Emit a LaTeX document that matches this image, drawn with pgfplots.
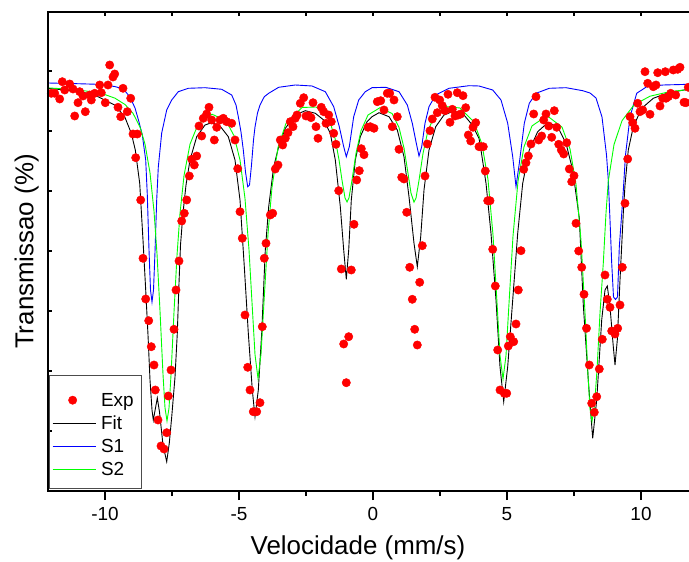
\documentclass[border=0pt]{standalone}
\usepackage{pgfplots}
\pgfplotsset{compat=1.18}
\usepackage{pgfplotstable}
\usepackage{fontspec}
\setmainfont{Liberation Sans}

% values in pixel units (px, py); converted to mm/s and a free transmission scale
\pgfplotstableread{
px py
51.3 93.3
54.7 93.3
59.7 99
62.3 81.7
64.7 90
69.7 84
73 89
74.7 116
78 102.7
79.7 91.7
83 96
85.3 111.7
89.7 95
91.3 100
94.7 93.3
99.7 85
101.3 92.7
105.3 102.7
108 85
109.7 65
113 77
114.7 74
118 107.3
120.7 116.7
123 88.3
127.3 111.7
130.7 98.3
133 134
137.3 134
135.7 157.7
140.7 200
143 258.3
145.7 299
148.7 320.7
151.3 346.7
154 365
155.3 390
158 420
161 446
164 449
166.7 432.7
168.3 396
171 370
174 329.3
176 290
179 261
181.7 221
184.3 213.3
186.7 200
189.3 176
191.7 159.3
194.3 165
196.7 156
199 126
201.7 136
203.3 118.3
206.7 114
209 107.3
211.7 120
214.3 140
216.7 127.3
220 120
223.3 118.3
226.7 121.7
231.7 123.3
235 140
237.7 168.7
240 211.7
242.3 238.3
245 315
247.7 367.3
250 390
253.3 411.7
256.7 411.7
260 402.7
262.3 326.7
264.3 258.3
266 243.3
270.3 215
272.7 213.3
275.3 169
278 165
280.3 140
282.7 145
285.3 138.3
288 132.7
290.3 121.7
293 126.7
295.3 118.3
297 115
300.3 103.3
303.7 97.7
306 116
308.7 115.7
311 117.7
313 102.7
316 126.7
318 138.3
321.3 107.3
323.7 111.7
326 123.3
328.7 115
331.3 121.7
333.7 133.3
336 144.3
338.7 190.7
341.3 269
343.7 344
346.3 382.7
348.7 336.7
351.3 270
354 224.3
356.7 180
359.3 170.7
361.3 148.7
364 154.7
368 127.3
370.3 126.7
374 128.3
377.3 101.7
380.7 100.7
384 110
387.3 93.3
389.7 93.3
392.3 126.7
394 100
397.3 116.7
399 149.3
401.7 177.3
404 179
406.7 212.3
409.7 267.3
412.3 299.3
414.7 329.3
417.3 345
419.7 282.3
422.3 245.7
425 176
427.3 144
430 130.7
432.3 119
435 97.3
437.3 112.7
439.7 100
442.3 105.7
445 110.7
448 94.3
450 122.3
452.3 109.3
455 116
457.3 92.7
458.3 115
460.7 114
463 95.7
465.7 107.7
468.3 135
470.7 141
473 127.3
475.7 122.7
479 146.7
481 146.7
483.3 146.7
485.3 171
487.7 200.7
490 200.7
492.7 249.3
495.3 286
497.7 350
500 390
504.3 393.3
506.7 393.3
508.3 346
510.3 336.7
513.7 341.7
516 324
518.3 290
521 250.7
523.7 169.3
526 162.7
528.3 156
531 144
533.7 114
536 96.7
538.7 140
541.7 136
543.7 120
546 114
548.7 126
551.7 137.3
554.3 110.7
556.7 127.3
558.7 144.3
561.3 150
563.7 154
566.7 142.7
569.3 169
571.7 181.7
574 175.7
576 223.3
578.7 251
581.7 267.3
584 294.3
586.5 328.3
589.3 365
591.7 403.3
594.3 412.3
596.7 396.7
599.3 369
602.3 339.3
605 275
607.3 299.3
610 307.3
611.7 331
615 334
617.7 328.3
620 305
622.3 267.3
625 203.3
627.7 159
630 116.7
632.7 122.7
635 128.3
637.7 103.3
640 111.7
642.7 110
645 71.7
647.7 83.3
650 114.3
653.3 86.7
656 85
657.7 72.7
660 106
662.7 98.3
665.3 71.7
666 98.3
668.3 96.7
670.7 93.3
673.3 70
675.7 95
677.7 69.3
680 67.3
684 102.3
686 102.7
688.3 87.3
}\expdata

\pgfplotstableread{
px py
48 88.3
81.3 91.7
98 96.7
114.7 105
124.7 116.7
131.3 133.3
135.3 150
139.7 183.3
143 240
145.7 290
148 335
150 380
152 410
153.3 420
155.3 409
157.3 398
159.5 412
163 445
166.7 461.7
169.3 443
171.7 417
175 377
177.3 333
179 283
180.5 245
183 213
186 185
190 160
196.7 136.7
205 125
211.7 122.7
220 126
228.3 136.7
235 160
240 200
244.3 266.7
248.3 333
252.3 390
255 416.7
258.3 390
261.7 333
265.3 250
268.7 206.7
273.7 166.7
278.7 146.7
285.3 128.3
295.3 115
305.3 110.7
315.3 113.3
323.7 120
330.3 133.3
335.3 160
340.3 206.7
343.7 250
346.3 279.3
348.7 250
351.3 200
355.3 160
360.3 136.7
367 121.7
372 116.7
379 112.7
389 116.7
397.3 130
404 156.7
409 196.7
414 243.3
417.3 266.7
420.7 236.7
424 190
429 150
435.7 126.7
444 115
454 111
464 115
472.3 125
479 138.3
481 150
486 183.3
491 233.3
496 300
500 366.7
503.7 401.7
507.7 366.7
512.7 300
517.7 233.3
522.7 183.3
529.3 150
537.7 131.7
547.7 122.7
557.7 126.7
566 143.3
572.7 170
579.3 218
583.3 305
588.3 380
590.5 410
592.7 438.3
596.7 400
601.7 320
605 290
607.3 286
610 306.7
613.3 346.7
615 365
617.3 340
620 280
623.3 213
625 185
628.3 150
633.3 126.7
641.7 108.3
653.3 98.3
666.7 93.3
689 89
}\fitdata

\pgfplotstableread{
px py
48 83
70 83.5
98 84.3
114.7 86.5
120 88
125 91
130 97
135 108
139 122
142.3 135
145.7 160
147.3 195
149 250
150.5 290
152 302
153.5 290
155 252
156.7 200
158.3 167
161.7 133
166.7 110
171.7 100
178.3 91.7
188.3 88.3
205 87.7
221.7 89.3
231.7 95
236 105
238.3 116.7
241 132
243.3 150
245.5 172
247.7 186.7
249.5 185
251.5 165
253.5 140
255 127
257.5 113
260 105
264.3 96.7
268.7 93.3
278.7 87.3
295.3 85
312 86
325.3 91.7
333.7 106.7
339.3 126.7
343.7 146.7
346.3 156.7
349.3 146.7
353.7 116.7
358.7 100
365.3 91.7
372 87.7
385.7 87.3
399 91.7
407.3 105
412.3 123.3
416.3 143.3
419 156
421.7 146.7
425 123.3
429 106.7
435.7 95
449 88.3
469 85.7
479 86
492.7 90
501 100
507.7 123.3
512.7 156.7
516 186.7
519.3 163.3
524.3 123.3
529.3 103.3
536 93.3
549.3 88.3
566 87.7
582.7 90.7
590 93
596 98
602 117
606.5 155
608.3 180
610 220
611.7 263
613.5 297
615.5 299.5
617.5 297
619.3 247
622.7 200
625.5 155
630 117
636.7 93.3
646.7 86.7
663.3 85
689 84.3
}\sonedata

\pgfplotstableread{
px py
48 87.9
70 89.2
90 91.5
105 94.6
115 98.2
125 104.5
133 113.3
140 127.1
145 144.1
150 172.8
154 211.2
157 253.8
160 310.9
163 374.4
165 407.7
167 421
169 408.1
171 375
174 311.9
177 255.5
180 213.4
184 175.7
190 144.2
198 124.4
212 114.2
226 120.7
234 135.7
240 160
245 198.5
249 249.9
252 302.4
255 354.5
258 378.4
261 354.3
264 301.8
268 233.9
272 187.2
278 147.6
286 123.2
302 107.5
316 107
324 112.2
330 122
335 138.2
339 159.7
342 180.2
345 197.9
347 202
349 197.8
352 180.1
356 153.3
361 130.7
368 115
380 107.7
392 113.5
399 127.5
404 148
408 173.3
411 193.1
414 202.2
416 198
419 180.4
423 153.5
428 130.5
435 114.8
446 106.6
460 108
474 122
482 144.3
488 179.6
493 234.9
497 302.7
500 355.3
503 379.1
506 355.5
509 303.4
513 236
518 181.3
524 146.8
532 125.9
547 115.7
562 127.1
570 148.9
576 184.3
581 240.4
585 312.7
588 375.8
590 408.8
592 421.3
594.5 405
597 370
600 313
603.3 263
606 213
608.3 181
614 144.6
622 120.7
634 104.9
650 96.2
670 91.6
689 89.5
}\stwodata

\begin{document}
\begin{tikzpicture}
\useasboundingbox (0bp,0bp) rectangle (689bp,562bp);
\begin{axis}[
  at={(48bp,71bp)}, anchor=south west,
  scale only axis, width=646.6bp, height=479bp,
  xmin=-12.127, xmax=12, ymin=0, ymax=479,
  axis line style={line width=1.6bp},
  tick style={line width=1.2bp, black},
  tick align=outside,
  xtick={-10,-5,0,5,10}, xticklabels={-10,-5,0,5,10},
  minor xtick={-7.5,-2.5,2.5,7.5},
  xtick pos=bottom,
  major tick length=9bp, minor tick length=5bp,
  ytick=\empty,
  xticklabel style={font=\fontsize{19}{22}\selectfont, yshift=-4bp},
  xlabel={Velocidade (mm/s)},
  ylabel={Transmissao (\%)},
  label style={font=\fontsize{26}{30}\selectfont},
  xlabel style={at={(rel axis cs:0.4794,-0.1336)}, anchor=base},
  ylabel style={at={(rel axis cs:-0.02243,0.5)}, anchor=base},
  legend style={at={(rel axis cs:0.0062,0.2067)}, anchor=north west,
    draw=none, fill=none, inner sep=0bp, row sep=7bp, column sep=5bp,
    font=\fontsize{19}{22}\selectfont,
    nodes={text height=14bp, text depth=2bp, inner sep=0bp}},
  legend cell align=left,
  legend image code/.code={\draw[#1] (0bp,0bp) -- (43bp,0bp);},
]
\addplot[only marks, mark=*, mark size=4.2bp, red, mark options={draw=red, fill=red},
  legend image code/.code={\fill[red] (20bp,0bp) circle (4.2bp);}]
  table[x expr={(\thisrow{px}-373)/26.8}, y expr={491-\thisrow{py}}] {\expdata};
\addlegendentry{Exp}
\addplot[black, line width=0.9bp] table[x expr={(\thisrow{px}-373)/26.8}, y expr={491-\thisrow{py}}] {\fitdata};
\addlegendentry{Fit}
\addplot[blue, line width=0.9bp] table[x expr={(\thisrow{px}-373)/26.8}, y expr={491-\thisrow{py}}] {\sonedata};
\addlegendentry{S1}
\addplot[green, line width=0.9bp] table[x expr={(\thisrow{px}-373)/26.8}, y expr={491-\thisrow{py}}] {\stwodata};
\addlegendentry{S2}
\end{axis}
\begin{axis}[
  at={(48bp,71bp)}, anchor=south west,
  scale only axis, width=646.6bp, height=479bp,
  xmin=-12.127, xmax=12, ymin=0, ymax=479,
  axis line style={line width=1.6bp},
  tick style={line width=1.2bp, black},
  tick align=inside, major tick length=4bp,
  xtick={-10,-7.5,...,10}, xticklabels={}, xtick pos=top,
  ytick={60,120,...,420}, yticklabels={}, ytick pos=left,
]
\end{axis}
\draw[black!70, line width=0.9bp] (49bp,74bp) rectangle (141bp,187bp);
\end{tikzpicture}
\end{document}
